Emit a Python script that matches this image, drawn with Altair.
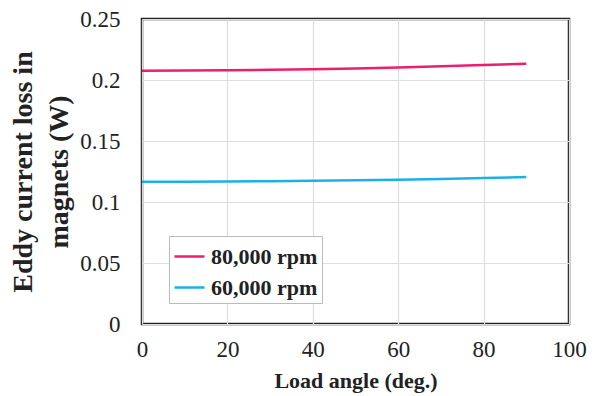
import altair as alt
import pandas as pd

angles = [0, 10, 20, 30, 40, 50, 60, 70, 80, 90]
loss_80k = [0.2076, 0.2077, 0.2079, 0.2083, 0.2088, 0.2095, 0.2103, 0.2112, 0.2123, 0.2134]
loss_60k = [0.1166, 0.1167, 0.1168, 0.1171, 0.1174, 0.1178, 0.1183, 0.1189, 0.1196, 0.1205]
series = ["80,000 rpm", "60,000 rpm"]
colors = ["#ec1f6e", "#1cb0e6"]

rows = []
for a, v in zip(angles, loss_80k):
    rows.append({"angle": a, "loss": v, "speed": series[0]})
for a, v in zip(angles, loss_60k):
    rows.append({"angle": a, "loss": v, "speed": series[1]})
df = pd.DataFrame(rows)

font = "Liberation Serif"

chart = alt.Chart(df).mark_line(strokeWidth=2.5).encode(
    x=alt.X("angle:Q", scale=alt.Scale(domain=[0, 100], nice=False),
            axis=alt.Axis(title="Load angle (deg.)", values=[0, 20, 40, 60, 80, 100],
                          labelPadding=14, titlePadding=9, labelFlush=False,
                          labelFontSize=23, titleFontSize=22)),
    y=alt.Y("loss:Q", scale=alt.Scale(domain=[0, 0.25], nice=False),
            axis=alt.Axis(title=["Eddy current loss in", "magnets (W)"],
                          values=[0, 0.05, 0.1, 0.15, 0.2, 0.25],
                          labelExpr="datum.value == 0 ? '0' : format(datum.value, '.2~f')",
                          labelPadding=22, titlePadding=6,
                          labelFontSize=23, titleFontSize=28, titleLineHeight=36)),
    color=alt.Color("speed:N", scale=alt.Scale(domain=series, range=colors),
                    sort=series,
                    legend=alt.Legend(title=None, orient="none", legendX=27, legendY=217,
                                      symbolType="stroke", symbolSize=900, symbolStrokeWidth=2.5,
                                      labelFont=font, labelFontSize=22, labelFontWeight="bold",
                                      labelColor="#222", strokeColor="#bbbbbb", fillColor="white",
                                      padding=4, rowPadding=3, labelOffset=5)),
).properties(
    width=427, height=305,
    autosize=alt.AutoSizeParams(type="none"),
    padding={"left": 134, "top": 11, "right": 20, "bottom": 76},
).configure_axis(
    labelFont=font, labelColor="#222",
    titleFont=font, titleFontWeight="bold", titleColor="#222",
    gridColor="#dddddd", gridWidth=1.2, domain=False, ticks=False,
).configure_view(
    stroke="#222", strokeWidth=2.5,
)

chart.save("out.html", embed_options={"renderer": "svg", "actions": False})
